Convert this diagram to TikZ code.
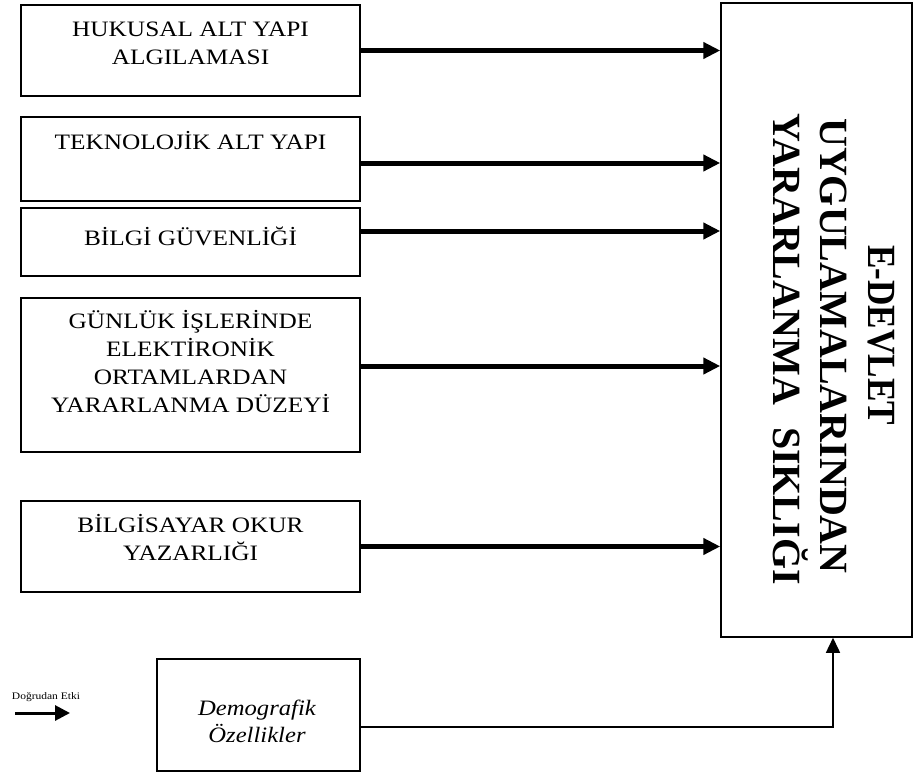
\documentclass[tikz,border=0pt]{standalone}
\usepackage{fontspec}
\setmainfont{Liberation Serif}
\newfontfamily\boxfont{Liberation Serif}[FakeStretch=1.15]
\newfontfamily\demfont{Liberation Serif}[FakeStretch=1.12]
\usetikzlibrary{arrows.meta}
\tikzset{
  box/.style={draw=black, line width=1.5bp, minimum width=339bp, inner sep=0pt},
  txt/.style={font=\boxfont\fontsize{22bp}{28bp}\selectfont, align=center, inner sep=0pt, anchor=base},
  bigtxt/.style={font=\bfseries\fontsize{40bp}{47bp}\selectfont, rotate=-90, inner sep=0pt, anchor=base west},
  fat/.style={line width=5bp, -{Triangle[length=17bp,width=16bp]}},
  thin/.style={line width=1.5bp, -{Triangle[length=15bp,width=14bp]}},
}
\begin{document}
\begin{tikzpicture}[x=1bp,y=-1bp]
\useasboundingbox (0,0) rectangle (913,773);
% left boxes
\node[box, minimum height=91bp] (b1) at (190.5,50.5) {};
\node[box, minimum height=84bp] (b2) at (190.5,159) {};
\node[box, minimum height=68bp] (b3) at (190.5,242) {};
\node[box, minimum height=154bp] (b4) at (190.5,375) {};
\node[box, minimum height=91bp] (b5) at (190.5,546.5) {};
% base anchor = baseline of the last line
\node[txt] (t1) at (190.5,65) {HUKUSAL ALT YAPI\\ALGILAMASI};
\node[txt] (t2) at (190.5,149) {TEKNOLOJİK ALT YAPI};
\node[txt] (t3) at (190.5,245) {BİLGİ GÜVENLİĞİ};
\node[txt] (t4) at (190.5,412) {GÜNLÜK İŞLERİNDE\\ELEKTİRONİK\\ORTAMLARDAN\\YARARLANMA DÜZEYİ};
\node[txt] (t5) at (190.5,560) {BİLGİSAYAR OKUR\\YAZARLIĞI};
% big box
\node[draw=black, line width=1.5bp, minimum width=191bp, minimum height=634bp, inner sep=0pt] (big) at (816.5,320) {};
\node[bigtxt] (g1) at (868,245) {\scalebox{0.88}[1]{E-DEVLET}};
\node[bigtxt] (g2) at (820,118) {UYGULAMALARINDAN};
\node[bigtxt] (g3) at (773,113) {YARARLANMA\hspace{12bp} SIKLIĞI};
% demographic box
\node[draw=black, line width=1.5bp, minimum width=203bp, minimum height=112bp, inner sep=0pt] (dem) at (258.5,715) {};
\node[txt, font=\demfont\itshape\fontsize{22bp}{27bp}\selectfont] (demt) at (257,742) {Demografik\\Özellikler};
% arrows
\draw[fat] (b1.east) -- (b1.east -| big.west);
\draw[fat] ([yshift=-4bp]b2.east) -- ([yshift=-4bp]b2.east -| big.west);
\draw[fat] ([yshift=11bp]b3.east) -- ([yshift=11bp]b3.east -| big.west);
\draw[fat] ([yshift=9bp]b4.east) -- ([yshift=9bp]b4.east -| big.west);
\draw[fat] (b5.east) -- (b5.east -| big.west);
\coordinate (dj) at ([yshift=-12bp]dem.east);
\draw[thin] (dj) -| ([xshift=16.5bp]big.south);
% legend
\node[font=\boxfont\fontsize{10bp}{12bp}\selectfont, inner sep=0pt, anchor=base] (lt) at (46,699) {Doğrudan Etki};
\coordinate (la) at (15,713);
\coordinate (lb) at (70,713);
\draw[line width=3bp, -{Triangle[length=15bp,width=15bp]}] (la) -- (lb);
\end{tikzpicture}
\end{document}
